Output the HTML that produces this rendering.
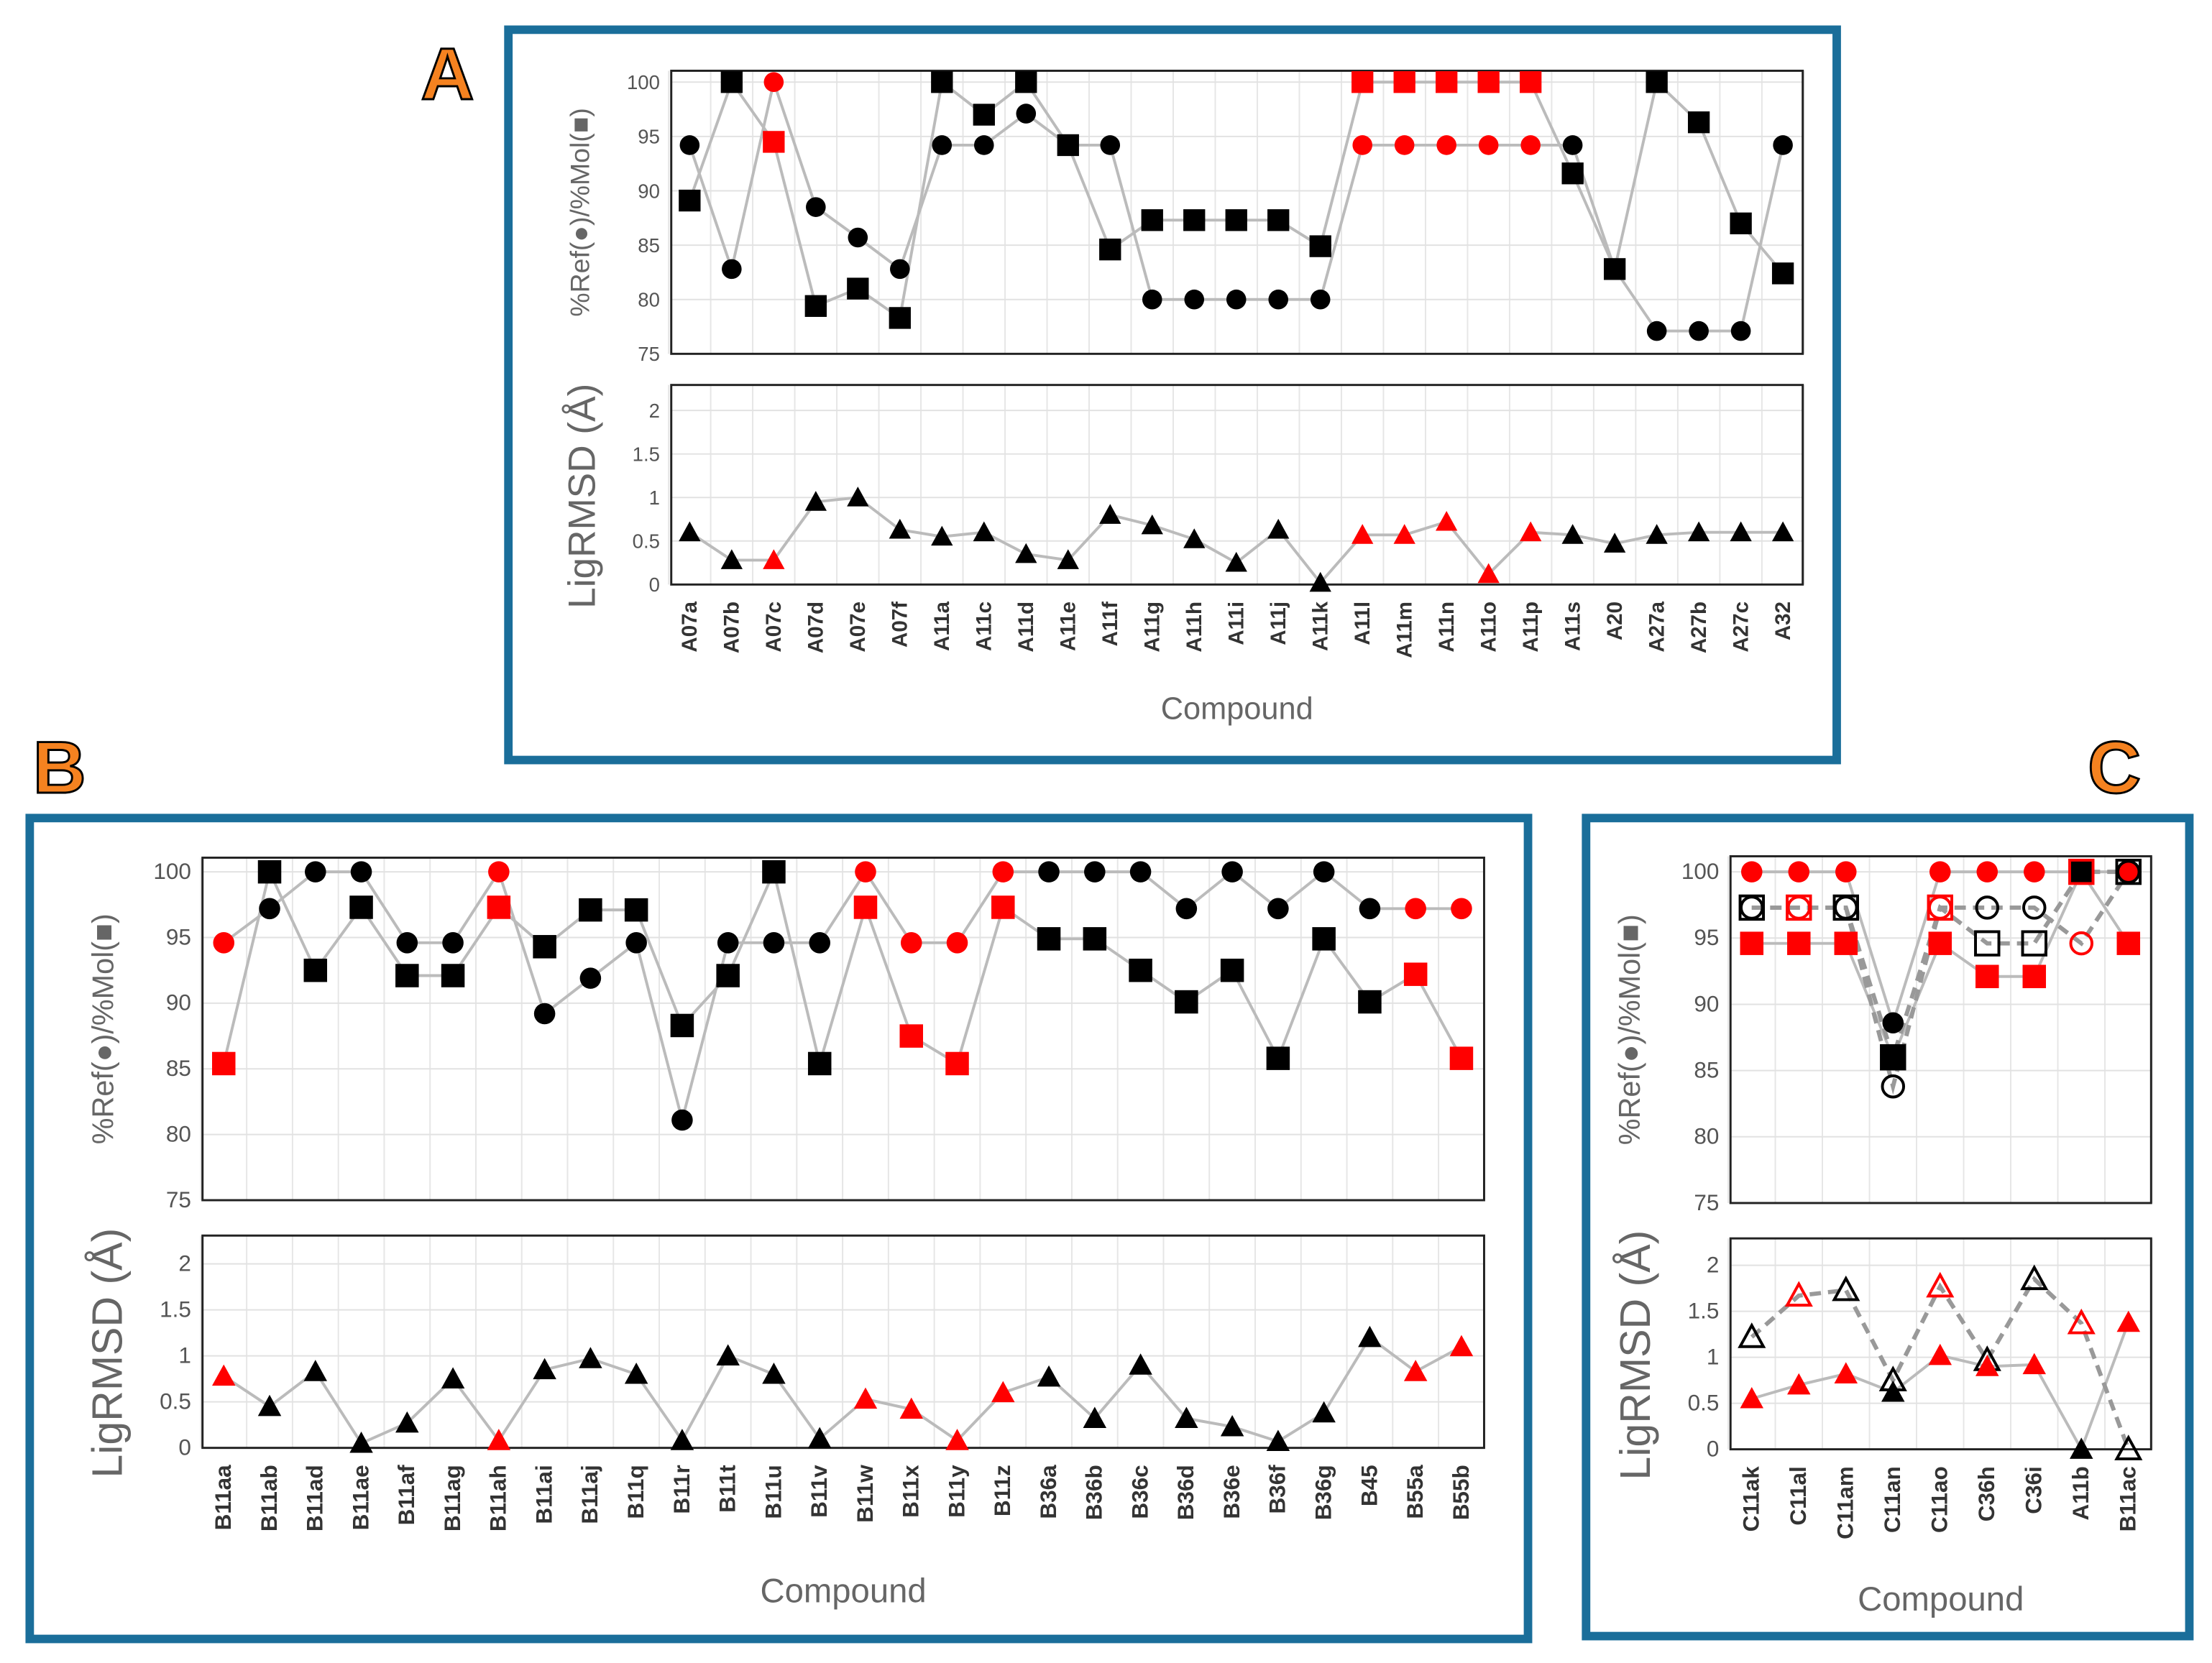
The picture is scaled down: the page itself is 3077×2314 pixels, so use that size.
<!DOCTYPE html>
<html><head><meta charset="utf-8"><style>
html,body{margin:0;padding:0;background:#fff;}
svg{display:block;}
text{font-family:"Liberation Sans",sans-serif;}
</style></head><body>
<svg id="fig" width="3077" height="2314" viewBox="0 0 1562 1175" preserveAspectRatio="none" xmlns="http://www.w3.org/2000/svg">
<rect x="0" y="0" width="1562" height="1175" fill="#fff"/>
<rect x="359" y="21" width="938" height="516" fill="none" stroke="#1a6e9a" stroke-width="6"/>
<rect x="21" y="578" width="1058" height="580" fill="none" stroke="#1a6e9a" stroke-width="6"/>
<rect x="1120" y="578" width="426" height="578" fill="none" stroke="#1a6e9a" stroke-width="6"/>
<text x="316" y="70" font-size="52" font-weight="bold" fill="#f58220" stroke="#000" stroke-width="1.5" text-anchor="middle">A</text>
<text x="42" y="560" font-size="52" font-weight="bold" fill="#f58220" stroke="#000" stroke-width="1.5" text-anchor="middle">B</text>
<text x="1493" y="560" font-size="52" font-weight="bold" fill="#f58220" stroke="#000" stroke-width="1.5" text-anchor="middle">C</text>
<g id="g"></g>
</svg>
<script>
// Panel A data
const catsA = ["A07a","A07b","A07c","A07d","A07e","A07f","A11a","A11c","A11d","A11e","A11f","A11g","A11h","A11i","A11j","A11k","A11l","A11m","A11n","A11o","A11p","A11s","A20","A27a","A27b","A27c","A32"];
const refA = [94.2,82.8,100,88.5,85.7,82.8,94.2,94.2,97.1,94.2,94.2,80,80,80,80,80,94.2,94.2,94.2,94.2,94.2,94.2,82.8,77.1,77.1,77.1,94.2];
const molA = [89.1,100,94.5,79.4,81.0,78.3,100,97,100,94.2,84.6,87.3,87.3,87.3,87.3,84.9,100,100,100,100,100,91.6,82.8,100,96.3,87,82.4];
const rmsdA = [0.6,0.28,0.28,0.95,1.0,0.63,0.55,0.6,0.35,0.28,0.8,0.68,0.52,0.25,0.63,0.02,0.57,0.57,0.72,0.12,0.6,0.57,0.47,0.57,0.6,0.6,0.6];
const redA = [0,0,1,0,0,0,0,0,0,0,0,0,0,0,0,0,1,1,1,1,1,0,0,0,0,0,0];
// Panel B data
const catsB = ["B11aa","B11ab","B11ad","B11ae","B11af","B11ag","B11ah","B11ai","B11aj","B11q","B11r","B11t","B11u","B11v","B11w","B11x","B11y","B11z","B36a","B36b","B36c","B36d","B36e","B36f","B36g","B45","B55a","B55b"];
const refB = [94.6,97.2,100,100,94.6,94.6,100,89.2,91.9,94.6,81.1,94.6,94.6,94.6,100,94.6,94.6,100,100,100,100,97.2,100,97.2,100,97.2,97.2,97.2];
const molB = [85.4,100,92.5,97.3,92.1,92.1,97.3,94.3,97.1,97.1,88.3,92.1,100,85.4,97.3,87.5,85.4,97.3,94.9,94.9,92.5,90.1,92.5,85.8,94.9,90.1,92.2,85.8];
const rmsdB = [0.78,0.45,0.83,0.05,0.27,0.75,0.08,0.85,0.97,0.8,0.08,1.0,0.8,0.1,0.53,0.42,0.08,0.6,0.77,0.32,0.9,0.32,0.23,0.07,0.38,1.2,0.83,1.1];
const redB = [1,0,0,0,0,0,1,0,0,0,0,0,0,0,1,1,1,1,0,0,0,0,0,0,0,0,1,1];
// Panel C data
const catsC = ["C11ak","C11al","C11am","C11an","C11ao","C36h","C36i","A11b","B11ac"];
const refC = [100,100,100,88.6,100,100,100,100,100];
const molC = [94.6,94.6,94.6,86,94.6,92.1,92.1,100,94.6];
const rmsdC = [0.55,0.7,0.82,0.62,1.02,0.9,0.92,0,1.38];
const redC = [1,1,1,0,1,1,1,0,1];
const refOpenC = [97.3,97.3,97.3,83.8,97.3,97.3,97.3,94.6,100];
const molOpenC = [97.3,97.3,97.3,86,97.3,94.6,94.6,100,100];
const rmsdOpenC = [1.22,1.67,1.73,0.75,1.77,0.97,1.85,1.37,0];
const redOpenC = [0,1,0,0,1,0,0,1,0];
const yTicksTop = ["75","80","85","90","95","100"];
const yTicksBot = ["0","0.5","1","1.5","2"];

const NS="http://www.w3.org/2000/svg";
const G=document.getElementById('g');
function mk(tag,attrs,parent){const e=document.createElementNS(NS,tag);for(const k in attrs)e.setAttribute(k,attrs[k]);(parent||G).appendChild(e);return e;}

function panel(P){
  const n=P.cats.length;
  const xs=i=>P.x0+i*(P.x1-P.x0)/(n-1);
  const yT=v=>P.t100+(100-v)*(P.t75-P.t100)/25;
  const yB=v=>P.b0-v*(P.b0-P.b2)/2;
  const step=(P.x1-P.x0)/(n-1);
  // plot boxes & grids
  [[P.tTop,P.t75],[P.bTop,P.b0]].forEach(([t,b],k)=>{
    for(let i=0;i<=n;i++){const gx=P.x0-step/2+i*step;
      const l=mk('line',{x1:gx,x2:gx,y1:t,y2:b,stroke:'#e6e6e6','stroke-width':1});
      }
  });
  yTicksTop.forEach(s=>{const y=yT(+s);
    const l=mk('line',{x1:P.L,x2:P.R,y1:y,y2:y,stroke:'#e2e2e2','stroke-width':1});
    
    const t=mk('text',{x:P.L-8,y:y+5,'font-size':P.tf,fill:'#555','text-anchor':'end'});t.textContent=s;
    });
  yTicksBot.forEach(s=>{const y=yB(+s);
    const l=mk('line',{x1:P.L,x2:P.R,y1:y,y2:y,stroke:'#e2e2e2','stroke-width':1});
    
    const t=mk('text',{x:P.L-8,y:y+5,'font-size':P.tf,fill:'#555','text-anchor':'end'});t.textContent=s;
    });
  const b1=mk('rect',{x:P.L,y:P.tTop,width:P.R-P.L,height:P.t75-P.tTop,fill:'none',stroke:'#222','stroke-width':1.5});
  
  const b2=mk('rect',{x:P.L,y:P.bTop,width:P.R-P.L,height:P.b0-P.bTop,fill:'none',stroke:'#222','stroke-width':1.5});
  
  // axis titles
  let t=mk('text',{x:0,y:0,'font-size':P.yt1,fill:'#666','text-anchor':'middle',transform:`translate(${P.yt1x},${(P.tTop+P.t75)/2}) rotate(-90)`});
  t.textContent='%Ref(\u25CF)/%Mol(\u25A0)';
  t=mk('text',{x:0,y:0,'font-size':P.yt2,fill:'#666','text-anchor':'middle',transform:`translate(${P.yt2x},${(P.bTop+P.b0)/2+8}) rotate(-90)`});
  t.textContent='LigRMSD (\u00C5)';
  t=mk('text',{x:(P.L+P.R)/2,y:P.xty,'font-size':P.xtf,fill:'#666','text-anchor':'middle'});
  t.textContent='Compound';
  P.cats.forEach((c,i)=>{const x=xs(i);
    const e=mk('text',{x:0,y:0,'font-size':P.xf,'font-weight':'bold',fill:'#333','text-anchor':'end',transform:`translate(${x+5},${P.b0+12}) rotate(-90)`});
    e.textContent=c;});
  // series
  function line(vals,yf,dash,name){
    const d=vals.map((v,i)=>(i?'L':'M')+xs(i)+','+yf(v)).join(' ');
    const p=mk('path',{d:d,fill:'none',stroke:dash?'#999':'#bbb','stroke-width':dash?3:2,'stroke-dasharray':dash?'8,5':'none'});
    
  }
  function marks(vals,yf,red,shape,open,name){
    vals.forEach((v,i)=>{const x=xs(i),y=yf(v),c=red[i]?'#f00':'#000';
      const fill=open?'none':c,sw=open?2:0;let e;
      const s=P.ms;
      if(shape==='c')e=mk('circle',{cx:x,cy:y,r:s*0.5,fill:open?'none':c,stroke:c,'stroke-width':open?2:0});
      else if(shape==='s')e=mk('rect',{x:x-s*0.55,y:y-s*0.55,width:s*1.1,height:s*1.1,fill:fill,stroke:c,'stroke-width':sw});
      else e=mk('path',{d:`M${x},${y-s*0.55} L${x+s*0.55},${y+s*0.45} L${x-s*0.55},${y+s*0.45} Z`,fill:fill,stroke:c,'stroke-width':sw});
      });
  }
  line(P.ref,yT,false,'ref-line');line(P.mol,yT,false,'mol-line');line(P.rmsd,yB,false,'rmsd-line');
  if(P.refO){line(P.refO,yT,true,'ref-open-line');line(P.molO,yT,true,'mol-open-line');line(P.rmsdO,yB,true,'rmsd-open-line');
    marks(P.rmsdO,yB,P.redO,'t',true,'rmsd-open-point');}
  marks(P.mol,yT,P.red,'s',false,'mol-point');
  marks(P.ref,yT,P.red,'c',false,'ref-point');
  if(P.refO){marks(P.molO,yT,P.redO,'s',true,'mol-open-point');marks(P.refO,yT,P.redO,'c',true,'ref-open-point');}
  marks(P.rmsd,yB,P.red,'t',false,'rmsd-point');
}
panel({cats:catsA,ref:refA,mol:molA,rmsd:rmsdA,red:redA,L:474,R:1273,x0:487,x1:1259,tTop:50,t100:58,t75:250,bTop:272,b2:290,b0:413,
  tf:14,yt1:19,yt1x:416,yt2:27,yt2x:420,xf:15,xtf:22,xty:508,ms:14});
panel({cats:catsB,ref:refB,mol:molB,rmsd:rmsdB,red:redB,L:143,R:1048,x0:158,x1:1032,tTop:606,t100:616,t75:848,bTop:873,b2:893,b0:1023,
  tf:16,yt1:21,yt1x:80,yt2:30,yt2x:86,xf:16,xtf:24,xty:1132,ms:15});
panel({cats:catsC,ref:refC,mol:molC,rmsd:rmsdC,red:redC,refO:refOpenC,molO:molOpenC,rmsdO:rmsdOpenC,redO:redOpenC,L:1222,R:1519,x0:1237,x1:1503,tTop:605,t100:616,t75:850,bTop:875,b2:894,b0:1024,
  tf:16,yt1:21,yt1x:1158,yt2:30,yt2x:1165,xf:16,xtf:24,xty:1138,ms:15});
</script>
</body></html>
